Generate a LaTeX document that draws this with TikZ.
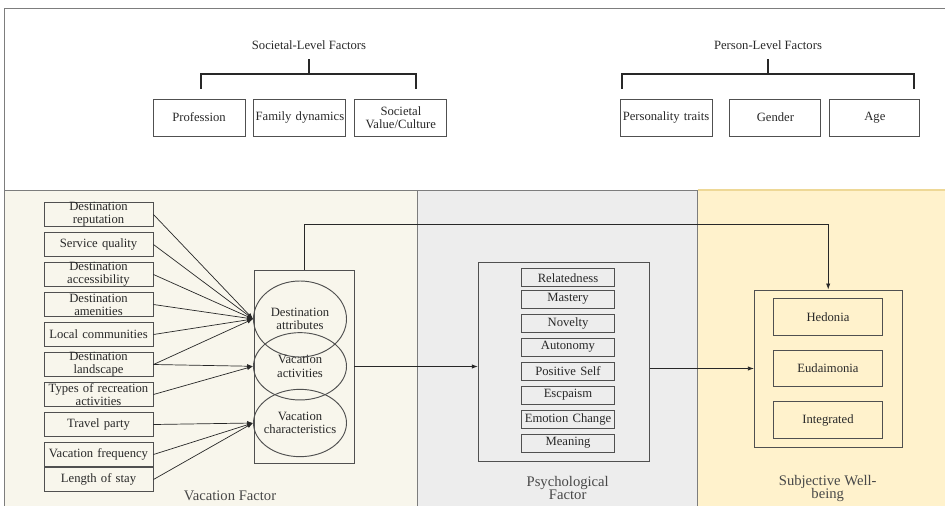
\documentclass[tikz,border=0pt]{standalone}
\usepackage{fontspec}
\setmainfont{Liberation Serif}
\usetikzlibrary{arrows.meta,positioning,calc,shapes.geometric}
\definecolor{MarcoGris}{RGB}{125,125,125}
\definecolor{TrazoOscuro}{RGB}{40,40,40}
\definecolor{CajaGris}{RGB}{80,80,80}
\definecolor{PanelCrema}{RGB}{248,246,236}
\definecolor{PanelGris}{RGB}{237,237,237}
\definecolor{PanelAmarillo}{RGB}{255,242,204}
\definecolor{BordeAmarillo}{RGB}{238,216,150}
\newcommand{\diagfont}{\fontsize{10.8}{11.3}\selectfont}
\newcommand{\panelfont}{\fontsize{12.5}{11.6}\selectfont}
\tikzset{
  factorbox/.style={draw=CajaGris, line width=0.8pt, align=center, text width=#1,
    minimum height=1.11cm, font=\diagfont, text=TrazoOscuro, inner sep=0pt},
  factorbox/.default=2.76cm,
  itembox/.style={draw=CajaGris, line width=0.8pt, align=center, text width=3.27cm,
    minimum height=0.72cm, font=\diagfont, text=TrazoOscuro, inner sep=0pt},
  needbox/.style={draw=CajaGris, line width=0.8pt, align=center, text width=2.79cm,
    minimum height=0.54cm, font=\diagfont, text=TrazoOscuro, inner sep=0pt},
  swbitem/.style={draw=CajaGris, line width=0.8pt, align=center, text width=3.27cm,
    minimum height=1.1cm, font=\diagfont, text=TrazoOscuro, inner sep=0pt},
  groupbox/.style={draw=CajaGris, line width=0.8pt, minimum width=#1, inner sep=0pt},
  ovalnode/.style={ellipse, draw=CajaGris, line width=0.8pt, minimum width=2.79cm,
    minimum height=#1, inner sep=0pt},
  ovalnode/.default=2.02cm,
  ovaltext/.style={align=center, font=\diagfont, text=TrazoOscuro},
  titletext/.style={font=\diagfont, text=TrazoOscuro},
  panellabel/.style={align=center, font=\panelfont, text=TrazoOscuro!85},
  frameline/.style={draw=MarcoGris, line width=0.8pt},
  bracket/.style={draw=TrazoOscuro, line width=1.1pt},
  flowarr/.style={-{Latex[length=1.8mm, width=1.3mm]}, line width=0.6pt, TrazoOscuro},
}

\begin{document}
\begin{tikzpicture}[x=0.03cm, y=-0.03cm]
  \useasboundingbox (0,0) rectangle (945,506);

  % ---- fondos de los tres paneles ----
  \fill[PanelCrema] (5,190) rectangle (417,510);
  \fill[PanelGris] (417,190) rectangle (697,510);
  \fill[PanelAmarillo] (697,190) rectangle (950,510);
  \draw[frameline] (950,8.5) -- (4.5,8.5) -- (4.5,510);
  \draw[frameline] (4.5,190) -- (697,190);
  \draw[frameline] (417,190) -- (417,510);
  \draw[frameline] (697,190) -- (697,510);
  \draw[BordeAmarillo, line width=1pt] (697.5,190) -- (950,190);

  % ---- factores de la sociedad y de la persona ----
  \node[titletext] (soctitle) at (309,45) {Societal-Level Factors};
  \node[factorbox] (prof) at (199,117.5) {Profession};
  \node[factorbox, right=0.24cm of prof] (family) {Family dynamics};
  \node[factorbox, right=0.24cm of family] (socval) {Societal\\Value/Culture};

  \node[titletext] (pertitle) at (768,45) {Person-Level Factors};
  \node[factorbox] (traits) at (666,117.5) {Personality traits};
  \node[factorbox=2.73cm, right=0.51cm of traits] (gender) {Gender};
  \node[factorbox=2.7cm, right=0.24cm of gender] (age) {Age};

  \coordinate (socmid) at (309,74);
  \coordinate (permid) at (768,74);
  \draw[bracket] (socmid) -- ++(0,-15);
  \draw[bracket] (201,89) |- (socmid) -| (416,89);
  \draw[bracket] (permid) -- ++(0,-15);
  \draw[bracket] (622,89) |- (permid) -| (914,89);

  % ---- factor de vacaciones ----
  \begin{scope}[node distance=0.9cm, on grid]
    \node[itembox] (reput) at (98.5,214.5) {Destination\\reputation};
    \node[itembox, below=of reput] (service) {Service quality};
    \node[itembox, below=of service] (access) {Destination\\accessibility};
    \node[itembox, below=of access] (amen) {Destination\\amenities};
    \node[itembox, below=of amen] (local) {Local communities};
    \node[itembox, below=of local] (landsc) {Destination\\landscape};
    \node[itembox, below=of landsc] (recre) {Types of recreation\\activities};
    \node[itembox, below=of recre] (party) {Travel party};
    \node[itembox, below=of party] (freq) {Vacation frequency};
    \node[itembox, below=0.75cm of freq] (stay) {Length of stay};
  \end{scope}

  \node[groupbox=3cm, minimum height=5.79cm] (vacbox) at (304,366.5) {};
  \node[ovalnode=2.28cm, label={[ovaltext]center:Destination\\attributes}] (attr) at (300,319) {};
  \node[ovalnode, label={[ovaltext]center:Vacation\\activities}] (activ) at (300,366.3) {};
  \node[ovalnode, label={[ovaltext]center:Vacation\\characteristics}] (charac) at (300,423) {};

  \node[panellabel] (vaclabel) at (230,495.5) {Vacation Factor};

  % ---- factor psicologico ----
  \node[groupbox=5.13cm, minimum height=5.98cm] (psybox) at (563.8,362) {};
  \begin{scope}[node distance=0.72cm, on grid]
    \node[needbox] (relat) at (568,277.7) {Relatedness};
    \node[needbox, below=0.64cm of relat] (mastery) {Mastery};
    \node[needbox, below=of mastery] (novelty) {Novelty};
    \node[needbox, below=of novelty] (autonomy) {Autonomy};
    \node[needbox, below=of autonomy] (posself) {Positive Self};
    \node[needbox, below=of posself] (escape) {Escpaism};
    \node[needbox, below=of escape] (emotion) {Emotion Change};
    \node[needbox, below=of emotion] (meaning) {Meaning};
  \end{scope}
  \node[panellabel] (psylabel) at (567.7,488) {Psychological\\Factor};

  % ---- bienestar subjetivo ----
  \node[groupbox=4.43cm, minimum height=4.71cm] (swbbox) at (828.2,368.5) {};
  \node[swbitem] (hedonia) at (828,317) {Hedonia};
  \node[swbitem, below=1.545cm of hedonia.center, anchor=center] (eudai) {Eudaimonia};
  \node[swbitem, below=1.545cm of eudai.center, anchor=center] (integ) {Integrated};
  \node[panellabel] (swblabel) at (827.7,488.5) {Subjective Well-\\being};

  % ---- conexiones ----
  \draw[flowarr] (reput.east) -- (attr.west);
  \draw[flowarr] (service.east) -- (attr.west);
  \draw[flowarr] (access.east) -- (attr.west);
  \draw[flowarr] (amen.east) -- (attr.west);
  \draw[flowarr] (local.east) -- (attr.west);
  \draw[flowarr] (landsc.east) -- (attr.west);
  \draw[flowarr] (landsc.east) -- (activ.west);
  \draw[flowarr] (recre.east) -- (activ.west);
  \draw[flowarr] (party.east) -- (charac.west);
  \draw[flowarr] (freq.east) -- (charac.west);
  \draw[flowarr] (stay.east) -- (charac.west);
  \draw[flowarr] (vacbox.north) -- ++(0,-45) -| (swbbox.north);
  \draw[flowarr] (vacbox.east) -- (vacbox.east -| psybox.west);
  \draw[flowarr] (swbbox.west -| psybox.east) -- (swbbox.west);
\end{tikzpicture}
\end{document}
